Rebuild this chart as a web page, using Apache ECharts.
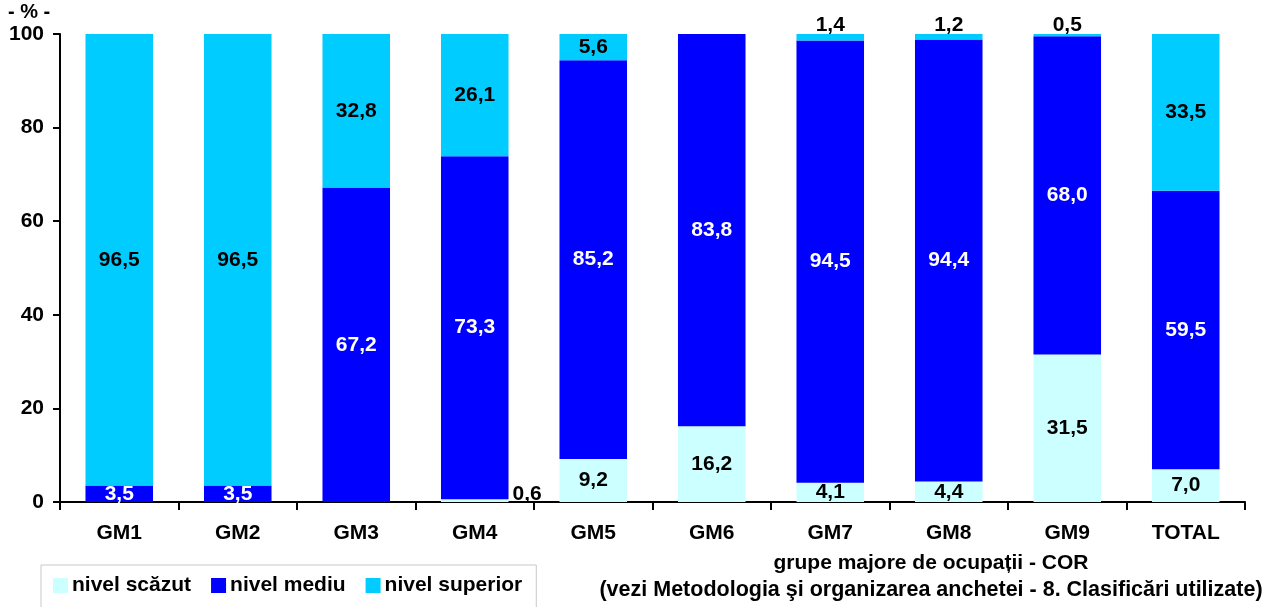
<!DOCTYPE html>
<html>
<head>
<meta charset="utf-8">
<script src="https://cdn.jsdelivr.net/npm/echarts@6/dist/echarts.min.js"></script>
<style>
  html, body { margin: 0; padding: 0; background: #fff; }
  #chart { width: 1270px; height: 607px; }
</style>
</head>
<body>
<div id="chart"></div>
<script>
// Occupational groups (COR major groups) and the share of each level, in %
const categories = ['GM1', 'GM2', 'GM3', 'GM4', 'GM5', 'GM6', 'GM7', 'GM8', 'GM9', 'TOTAL'];
const nivelScazut   = [0,    0,    0,    0.6,  9.2,  16.2, 4.1,  4.4,  31.5, 7.0];
const nivelMediu    = [3.5,  3.5,  67.2, 73.3, 85.2, 83.8, 94.5, 94.4, 68.0, 59.5];
const nivelSuperior = [96.5, 96.5, 32.8, 26.1, 5.6,  0,    1.4,  1.2,  0.5,  33.5];
const yTicks = [0, 20, 40, 60, 80, 100];

const FONT = 'Liberation Sans, Arial, sans-serif';
const fmt = v => v.toFixed(1).replace('.', ',');

// Builds the per-bar data items; very thin segments get their label outside the bar
function buildItems(values, textColor, smallPosition) {
  return values.map(v => {
    const small = v > 0 && v < 2;
    let offset = [0, 0];
    if (small) offset = smallPosition === 'right' ? [2, -6] : [0, 4];
    return {
      value: v,
      label: {
        show: v > 0,
        position: small ? smallPosition : 'inside',
        color: small ? '#000' : textColor,
        distance: 2,
        offset: offset,
        formatter: () => fmt(v)
      }
    };
  });
}

const labelBase = { fontFamily: FONT, fontWeight: 'bold', fontSize: 21 };

const chart = echarts.init(document.getElementById('chart'), null, { renderer: 'canvas' });
chart.setOption({
  animation: false,
  backgroundColor: '#fff',
  grid: { left: 60, right: 25, top: 34, bottom: 105, containLabel: false },
  legend: {
    left: 41, top: 565,
    padding: [10, 14, 14, 12],
    borderColor: '#c8c8c8', borderWidth: 1,
    itemWidth: 15, itemHeight: 15, itemGap: 20,
    icon: 'rect',
    textStyle: { fontFamily: FONT, fontWeight: 'bold', fontSize: 21, color: '#000', padding: [0, 0, 0, -1] },
    data: ['nivel scăzut', 'nivel mediu', 'nivel superior']
  },
  graphic: [
    { type: 'text', x: 8, y: 2, style: { text: '- % -', font: 'bold 20px ' + FONT, fill: '#000' } },
    { type: 'text', x: 931, y: 553, style: { text: 'grupe majore de ocupații - COR', font: 'bold 21px ' + FONT, fill: '#000', align: 'center' } },
    { type: 'text', x: 931, y: 579, style: { text: '(vezi Metodologia şi organizarea anchetei - 8. Clasificări utilizate)', font: 'bold 21.5px ' + FONT, fill: '#000', align: 'center' } }
  ],
  xAxis: {
    type: 'category',
    data: categories,
    axisLine: { lineStyle: { color: '#000', width: 2 } },
    axisTick: { show: true, length: 8, lineStyle: { color: '#000', width: 2 } },
    axisLabel: { fontFamily: FONT, fontWeight: 'bold', fontSize: 21, color: '#000', margin: 21 }
  },
  yAxis: {
    type: 'value',
    min: 0, max: 100, interval: 20,
    axisLine: { show: true, lineStyle: { color: '#000', width: 2 } },
    axisTick: { show: true, length: 7, lineStyle: { color: '#000', width: 2 } },
    splitLine: { show: false },
    axisLabel: {
      fontFamily: FONT, fontWeight: 'bold', fontSize: 21, color: '#000', margin: 16,
      formatter: v => (yTicks.includes(v) ? String(v) : '')
    }
  },
  series: [
    {
      name: 'nivel scăzut', type: 'bar', stack: 'total', barWidth: '57%',
      itemStyle: { color: '#CCFFFF' },
      label: labelBase,
      data: buildItems(nivelScazut, '#000', 'right')
    },
    {
      name: 'nivel mediu', type: 'bar', stack: 'total',
      itemStyle: { color: '#0000FF' },
      label: labelBase,
      data: buildItems(nivelMediu, '#fff', 'inside')
    },
    {
      name: 'nivel superior', type: 'bar', stack: 'total',
      itemStyle: { color: '#00CCFF' },
      label: labelBase,
      data: buildItems(nivelSuperior, '#000', 'top')
    }
  ]
});
</script>
</body>
</html>
